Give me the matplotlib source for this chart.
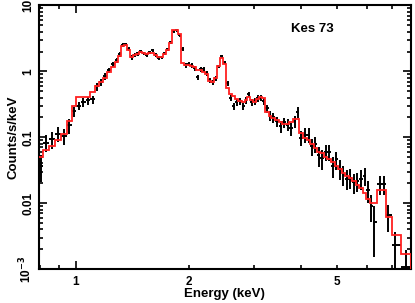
import numpy as np
import matplotlib
matplotlib.use("Agg")
import matplotlib.pyplot as plt
from matplotlib.ticker import FixedLocator, NullFormatter, FixedFormatter, FuncFormatter

# Kes 73 spectrum
energy = [0.806, 0.831, 0.863, 0.895, 0.929, 0.958, 0.988, 1.018, 1.047, 1.077,
          1.110, 1.138, 1.166, 1.196, 1.225, 1.256, 1.287, 1.311, 1.336, 1.360,
          1.386, 1.412, 1.438, 1.465, 1.492, 1.520, 1.548, 1.577, 1.607, 1.636,
          1.667, 1.698, 1.730, 1.762, 1.795, 1.828, 1.862, 1.897, 1.927, 1.968,
          2.005, 2.043, 2.081, 2.120, 2.159, 2.199, 2.240, 2.282, 2.325, 2.368,
          2.412, 2.457, 2.503, 2.550, 2.597, 2.646, 2.695, 2.746, 2.797, 2.849,
          2.902, 2.956, 3.011, 3.067, 3.124, 3.183, 3.242, 3.303, 3.36, 3.45,
          3.53, 3.60, 3.68, 3.76, 3.85, 3.92, 4.00, 4.10, 4.19, 4.28,
          4.37, 4.46, 4.55, 4.66, 4.75, 4.87, 4.97, 5.08, 5.19, 5.31,
          5.41, 5.54, 5.66, 5.78, 5.91, 6.04, 6.15, 6.28, 6.50, 6.66,
          6.83, 7.14, 7.63]
counts = [0.037, 0.083, 0.093, 0.114, 0.105, 0.151, 0.246, 0.30, 0.338, 0.362,
          0.375, 0.59, 0.68, 0.84, 1.035, 1.28, 1.47, 1.81, 2.48, 2.57,
          2.16, 1.63, 1.75, 1.87, 2.01, 1.87, 1.75, 1.94, 2.08, 1.75,
          1.58, 1.63, 1.87, 2.16, 2.76, 4.05, 4.20, 3.52, 2.16, 1.23,
          1.28, 1.23, 1.11, 0.81, 1.07, 1.07, 0.93, 0.73, 0.68, 0.78,
          1.19, 1.69, 1.37, 0.66, 0.40, 0.294, 0.338, 0.35, 0.294, 0.362,
          0.447, 0.338, 0.35, 0.389, 0.40, 0.35, 0.274, 0.214, 0.20, 0.174,
          0.146, 0.168, 0.156, 0.136, 0.174, 0.238, 0.099, 0.11, 0.11, 0.0725,
          0.080, 0.053, 0.048, 0.060, 0.060, 0.037, 0.046, 0.0335, 0.027, 0.0236,
          0.0245, 0.021, 0.022, 0.0236, 0.026, 0.016, 0.0092, 0.0052, 0.0195, 0.0195,
          0.0065, 0.0023, 0.00106]
errors = [0.016, 0.024, 0.026, 0.030, 0.030, 0.038, 0.045, 0.045, 0.05, 0.05,
          0.055, 0.08, 0.075, 0.09, 0.10, 0.12, 0.12, 0.14, 0.17, 0.17,
          0.15, 0.12, 0.12, 0.13, 0.13, 0.12, 0.12, 0.13, 0.13, 0.12,
          0.11, 0.11, 0.12, 0.14, 0.17, 0.24, 0.25, 0.22, 0.15, 0.09,
          0.09, 0.09, 0.08, 0.07, 0.08, 0.08, 0.07, 0.06, 0.06, 0.06,
          0.08, 0.10, 0.09, 0.06, 0.04, 0.035, 0.04, 0.04, 0.035, 0.04,
          0.045, 0.04, 0.04, 0.045, 0.045, 0.045, 0.04, 0.035, 0.035, 0.03,
          0.03, 0.03, 0.03, 0.03, 0.035, 0.045, 0.025, 0.027, 0.028, 0.02,
          0.022, 0.018, 0.016, 0.017, 0.017, 0.013, 0.014, 0.011, 0.009, 0.008,
          0.008, 0.007, 0.007, 0.008, 0.008, 0.006, 0.004, 0.0037, 0.006, 0.006,
          0.0028, 0.0013, 0.0009]
model = [0.051, 0.063, 0.0725, 0.0895, 0.114, 0.174, 0.294, 0.403, 0.403, 0.403,
         0.48, 0.59, 0.68, 0.78, 0.966, 1.15, 1.37, 1.69, 2.40, 2.48,
         2.08, 1.63, 1.75, 1.81, 1.94, 1.87, 1.81, 1.87, 1.87, 1.75,
         1.63, 1.63, 1.81, 2.08, 2.66, 4.20, 4.20, 3.65, 1.32, 1.23,
         1.23, 1.19, 1.15, 1.035, 1.035, 0.966, 0.90, 0.71, 0.68, 0.78,
         1.19, 1.58, 1.28, 0.55, 0.447, 0.417, 0.375, 0.35, 0.338, 0.362,
         0.403, 0.362, 0.338, 0.375, 0.403, 0.389, 0.238, 0.207, 0.193, 0.18,
         0.168, 0.16, 0.16, 0.168, 0.187, 0.187, 0.115, 0.099, 0.0895, 0.078,
         0.0676, 0.0607, 0.057, 0.051, 0.046, 0.0414, 0.037, 0.0335, 0.029, 0.026,
         0.0245, 0.022, 0.0191, 0.0172, 0.0144, 0.0117, 0.0099, 0.0101, 0.0161, 0.0161,
         0.0062, 0.0033, 0.0017]

e = np.array(energy)
# bin edges half way (in log) between neighbouring channels
mid = np.sqrt(e[:-1] * e[1:])
edges = np.concatenate([[e[0] ** 2 / mid[0]], mid, [e[-1] ** 2 / mid[-1]]])

plt.rcParams["font.family"] = "Liberation Sans"
plt.rcParams["font.weight"] = "bold"

fig = plt.figure(figsize=(4.15, 3.03), dpi=100)
ax = fig.add_axes([0.0928, 0.112, 0.8976, 0.870])

ax.stairs(model, edges, color="#ff2020", lw=1.3, zorder=3)
ax.errorbar(e, counts, xerr=[e - edges[:-1], edges[1:] - e], yerr=errors,
            fmt="none", ecolor="black", elinewidth=1.4, capsize=0, zorder=2)

ax.set_xscale("log")
ax.set_yscale("log")
ax.set_xlim(0.794, 7.87)
ax.set_ylim(1e-3, 10)

# only "1" gets a long tick; 2 and 5 are labelled short ticks
ax.xaxis.set_major_locator(FixedLocator([1]))
ax.xaxis.set_major_formatter(FixedFormatter(["1"]))
ax.xaxis.set_minor_locator(FixedLocator([0.8, 0.9, 2, 3, 4, 5, 6, 7]))
ax.xaxis.set_minor_formatter(FuncFormatter(lambda v, p: "%g" % v if v in (2, 5) else ""))
ax.yaxis.set_major_locator(FixedLocator([1e-3, 0.01, 0.1, 1, 10]))
ax.yaxis.set_major_formatter(FixedFormatter([r"10$^{-3}$", "0.01", "0.1", "1", "10"]))

ax.tick_params(which="both", direction="in", top=True, right=True, width=1.2,
               labelsize=8.5)
ax.tick_params(which="major", length=6)
ax.tick_params(which="minor", length=3)
ax.tick_params(axis="x", which="both", pad=5)
ax.tick_params(axis="y", which="both", pad=3)
for lab in ax.get_yticklabels():
    lab.set_rotation(90)
    lab.set_va("center")
for sp in ax.spines.values():
    sp.set_linewidth(1.5)

ax.set_xlabel("Energy (keV)", fontsize=9.5, fontweight="bold", labelpad=0)
ax.set_ylabel("Counts/s/keV", fontsize=9.5, fontweight="bold", labelpad=-1)
ax.text(0.734, 0.91, "Kes 73", transform=ax.transAxes, ha="center", va="center",
        fontsize=9.5, fontweight="bold")

fig.savefig("out.png", dpi=100)
